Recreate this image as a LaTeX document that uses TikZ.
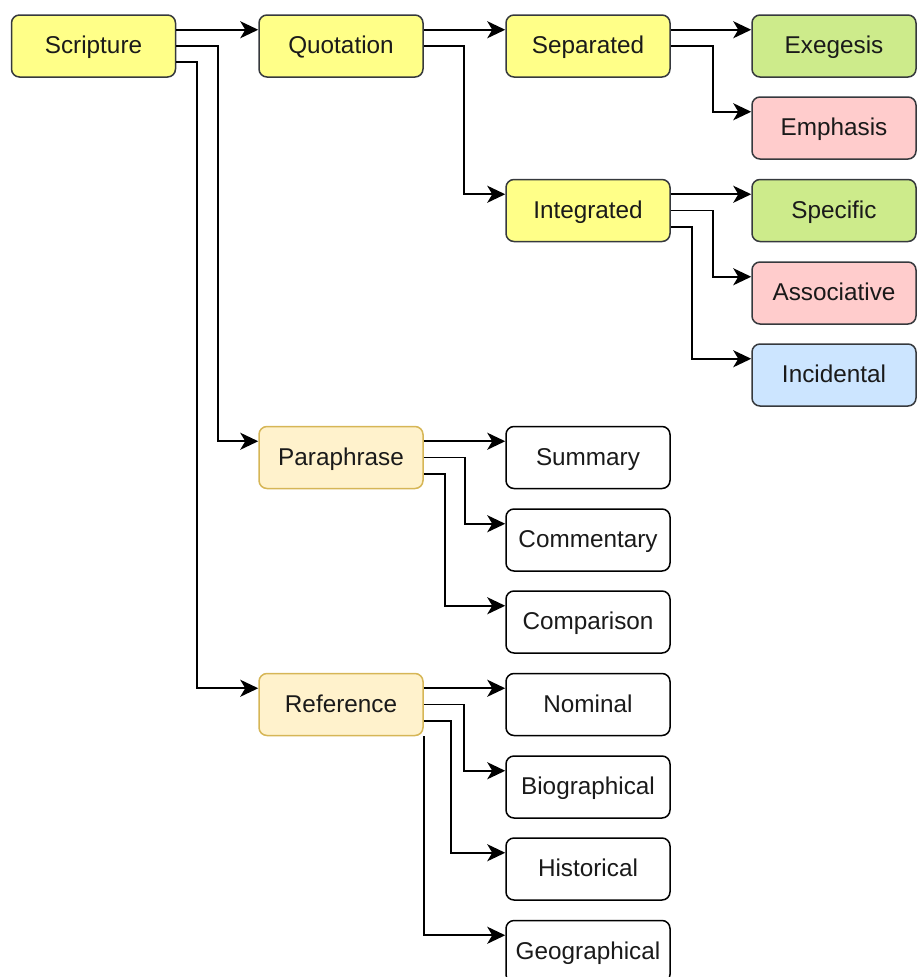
\documentclass[tikz,border=0pt]{standalone}
\usepackage{fontspec}
\setmainfont{Liberation Sans}
\usetikzlibrary{arrows.meta}
\definecolor{yelfill}{HTML}{FFFF88}
\definecolor{darkstroke}{HTML}{36393D}
\definecolor{grnfill}{HTML}{CDEB8B}
\definecolor{pnkfill}{HTML}{FFCCCC}
\definecolor{blufill}{HTML}{CCE5FF}
\definecolor{orgfill}{HTML}{FFF2CC}
\definecolor{orgstroke}{HTML}{D6B656}
\definecolor{txt}{HTML}{1A1A1A}
\begin{document}
\begin{tikzpicture}[x=1pt,y=-1pt,
  box/.style={rounded corners=8pt, minimum width=164pt, minimum height=62pt,
    line width=1.5pt, inner sep=0pt, text=txt, text height=17pt, text depth=2pt,
    font=\fontsize{24.3}{28}\selectfont},
  yelbox/.style={box, draw=darkstroke, fill=yelfill},
  grnbox/.style={box, draw=darkstroke, fill=grnfill},
  pnkbox/.style={box, draw=darkstroke, fill=pnkfill},
  blubox/.style={box, draw=darkstroke, fill=blufill},
  orgbox/.style={box, draw=orgstroke, fill=orgfill},
  whtbox/.style={box, draw=black, fill=white},
  arr/.style={draw=black, line width=1.9pt, -{Stealth[length=18pt,width=17pt,inset=5pt]}},
]
\useasboundingbox (0,0) rectangle (916,977);

% column 1
\node[yelbox] (scr) at (93.5,46) {Scripture};
% column 2
\node[yelbox] (quo) at (341,46) {Quotation};
\node[orgbox] (par) at (341,457.5) {Paraphrase};
\node[orgbox] (ref) at (341,704.5) {Reference};
% column 3
\node[yelbox] (sep) at (588,46) {Separated};
\node[yelbox] (int) at (588,210.5) {Integrated};
\node[whtbox] (sum) at (588,457.5) {Summary};
\node[whtbox] (com) at (588,540) {Commentary};
\node[whtbox] (cmp) at (588,622) {Comparison};
\node[whtbox] (nom) at (588,704.5) {Nominal};
\node[whtbox] (bio) at (588,787) {Biographical};
\node[whtbox] (his) at (588,869) {Historical};
\node[whtbox] (geo) at (588,951.5) {Geographical};
% column 4
\node[grnbox] (exe) at (834,46) {Exegesis};
\node[pnkbox] (emp) at (834,128) {Emphasis};
\node[grnbox] (spe) at (834,210.5) {Specific};
\node[pnkbox] (ass) at (834,293) {Associative};
\node[blubox] (inc) at (834,375) {Incidental};

% Scripture
\draw[arr] ([yshift=-15.5pt]scr.north east) -- ([yshift=-15.5pt]quo.north west);
\draw[arr] (scr.east) -- ++(42,0) |- ([yshift=-15.5pt]par.north west);
\draw[arr] ([yshift=15.5pt]scr.south east) -- ++(21,0) |- ([yshift=-15.5pt]ref.north west);
% Quotation
\draw[arr] ([yshift=-15.5pt]quo.north east) -- ([yshift=-15.5pt]sep.north west);
\draw[arr] (quo.east) -- ++(40,0) |- ([yshift=-15.5pt]int.north west);
% Separated
\draw[arr] ([yshift=-15.5pt]sep.north east) -- ([yshift=-15.5pt]exe.north west);
\draw[arr] (sep.east) -- ++(42,0) |- ([yshift=-15.5pt]emp.north west);
% Integrated
\draw[arr] ([yshift=-15.5pt]int.north east) -- ([yshift=-15.5pt]spe.north west);
\draw[arr] (int.east) -- ++(42,0) |- ([yshift=-15.5pt]ass.north west);
\draw[arr] ([yshift=15.5pt]int.south east) -- ++(21,0) |- ([yshift=-15.5pt]inc.north west);
% Paraphrase
\draw[arr] ([yshift=-15.5pt]par.north east) -- ([yshift=-15.5pt]sum.north west);
\draw[arr] (par.east) -- ++(41,0) |- ([yshift=-15.5pt]com.north west);
\draw[arr] ([yshift=15.5pt]par.south east) -- ++(21,0) |- ([yshift=-15.5pt]cmp.north west);
% Reference
\draw[arr] ([yshift=-15.5pt]ref.north east) -- ([yshift=-15.5pt]nom.north west);
\draw[arr] (ref.east) -- ++(40,0) |- ([yshift=-15.5pt]bio.north west);
\draw[arr] ([yshift=15.5pt]ref.south east) -- ++(27,0) |- ([yshift=-15.5pt]his.north west);
\draw[arr] (ref.south east) |- ([yshift=-15.5pt]geo.north west);
\end{tikzpicture}
\end{document}
